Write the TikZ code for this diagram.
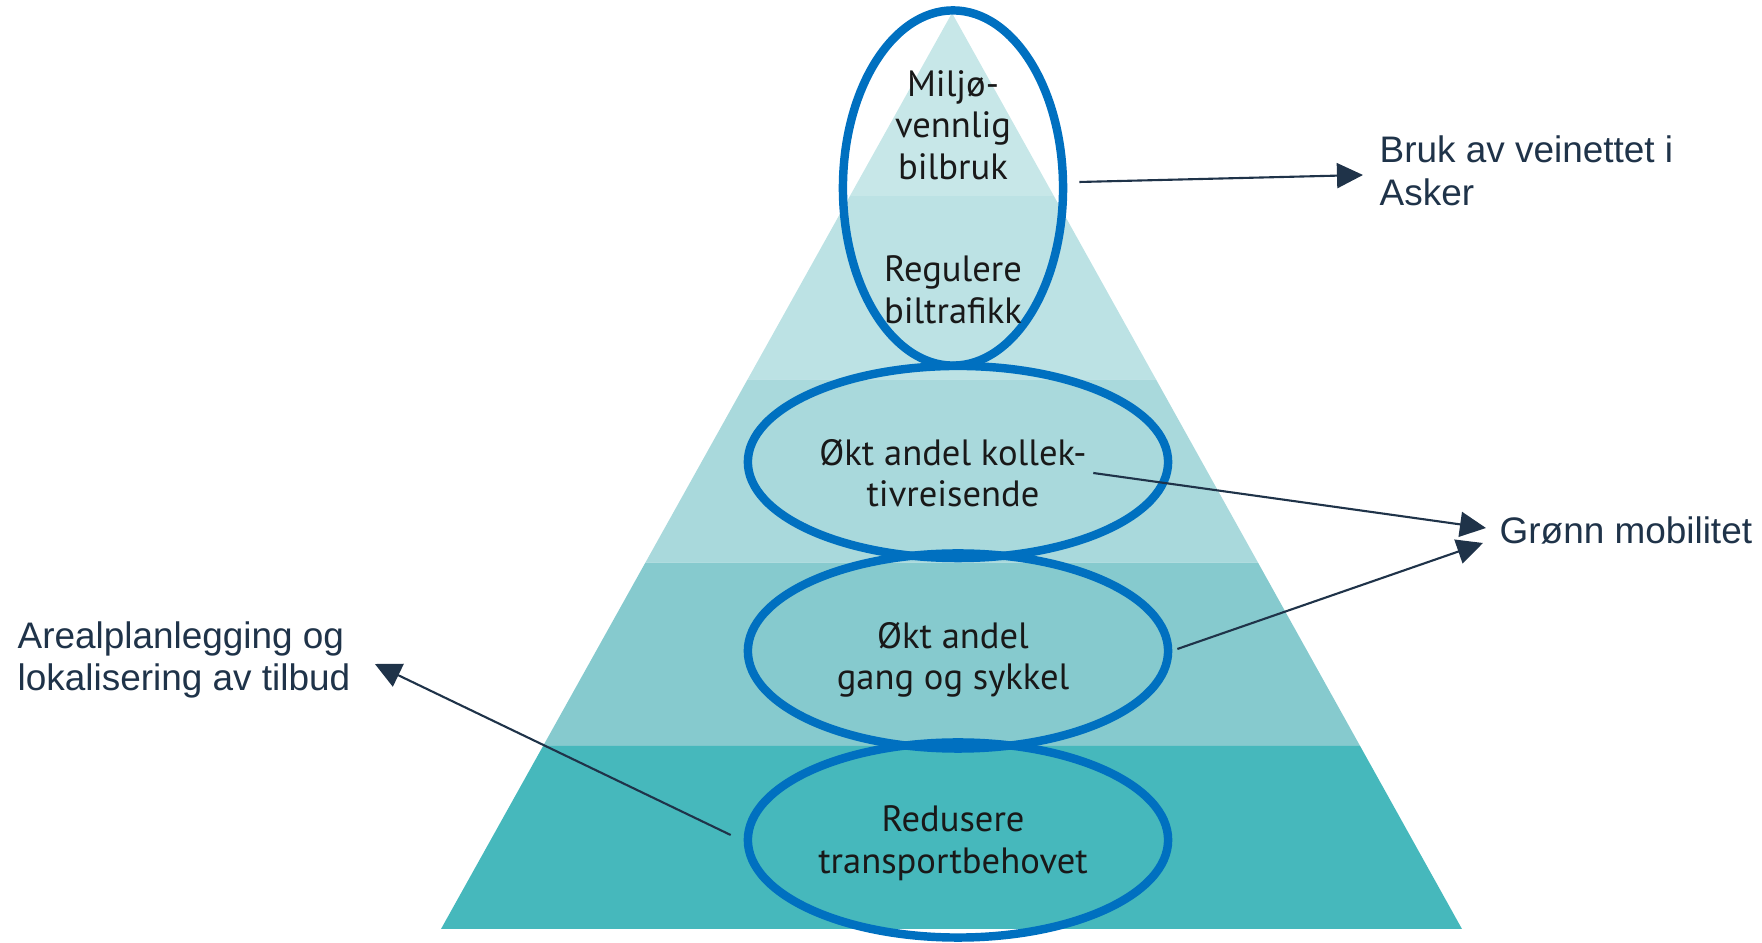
\documentclass[tikz,border=0pt]{standalone}
\usepackage{fontspec}
\setmainfont{PT Sans}
\newfontfamily\labelfont{Liberation Sans}
\usetikzlibrary{shapes.geometric,arrows.meta,calc}
\definecolor{lagA}{RGB}{199,231,232}
\definecolor{lagB}{RGB}{188,226,228}
\definecolor{lagC}{RGB}{169,217,220}
\definecolor{lagD}{RGB}{134,202,206}
\definecolor{lagE}{RGB}{70,184,188}
\definecolor{ringblue}{RGB}{0,112,192}
\definecolor{navy}{RGB}{31,51,73}

\begin{document}
\begin{tikzpicture}
                [
                x=0.01cm,y=-0.01cm,
                ring/.style={ellipse,draw=ringblue,line width=2.4pt,inner sep=0pt},
                tekst/.style={align=center,inner sep=0pt,text=black!90,font=\fontsize{10.4}{11.8}\selectfont},
                etikett/.style={align=left,inner sep=0pt,text=navy,font=\labelfont\fontsize{10.5}{12.2}\selectfont},
                pil/.style={-{Triangle[length=0.26cm,width=0.25cm]},navy,line width=0.6pt}
                ]
            \useasboundingbox (0,0) rectangle (1762,943);
            \coordinate (topp) at (952,13);
            \coordinate (vb) at (441,929);
            \coordinate (hb) at (1462,929);
            \foreach \i/\farge in {0/lagA,1/lagB,2/lagC,3/lagD,4/lagE}
                \fill[\farge] ($(topp)!{\i*0.2}!(vb)$) -- ($(topp)!{\i*0.2+0.2}!(vb)$)
                    -- ($(topp)!{\i*0.2+0.2}!(hb)$) -- ($(topp)!{\i*0.2}!(hb)$) -- cycle;
            \node[ring,minimum width=2.20cm,minimum height=3.55cm] (miljoring) at (953,188) {};
            \node[ring,minimum width=4.20cm,minimum height=1.92cm] (kollring) at (958,462) {};
            \node[ring,minimum width=4.20cm,minimum height=1.95cm] (gangring) at (958,651) {};
            \node[ring,minimum width=4.20cm,minimum height=1.95cm] (redring) at (958,840) {};
            \node[tekst] (miljo) at (953,125) {Miljø-\\vennlig\\bilbruk};
            \node[tekst] (regulere) at (953,290) {Regulere\\biltrafikk};
            \node[tekst] (koll) at (953,473) {Økt andel kollek-\\tivreisende};
            \node[tekst] (gang) at (953,660) {Økt andel\\gang og sykkel};
            \node[tekst] (redusere) at (953,843) {Redusere\\transportbehovet};
            \node[etikett,anchor=west] (veinett) at (1379,171) {Bruk av veinettet i\\Asker};
            \node[etikett,anchor=west] (gronn) at (1499,530) {Grønn mobilitet};
            \node[etikett,anchor=west] (areal) at (17,660) {Arealplanlegging og\\lokalisering av tilbud};
            \draw[pil] ([xshift=0.12cm,yshift=0.06cm]miljoring.east) -- ([xshift=-0.16cm,yshift=-0.04cm]veinett.west);
            \draw[pil] ([xshift=0.06cm]koll.east) -- ([xshift=-0.13cm,yshift=0.02cm]gronn.west);
            \draw[pil] ([xshift=0.05cm,yshift=0.02cm]gangring.east) -- ([xshift=-0.16cm,yshift=-0.13cm]gronn.west);
            \draw[pil] ([xshift=-0.13cm,yshift=0.05cm]redring.west) -- ([xshift=0.24cm,yshift=-0.04cm]areal.east);
            \end{tikzpicture}
\end{document}
